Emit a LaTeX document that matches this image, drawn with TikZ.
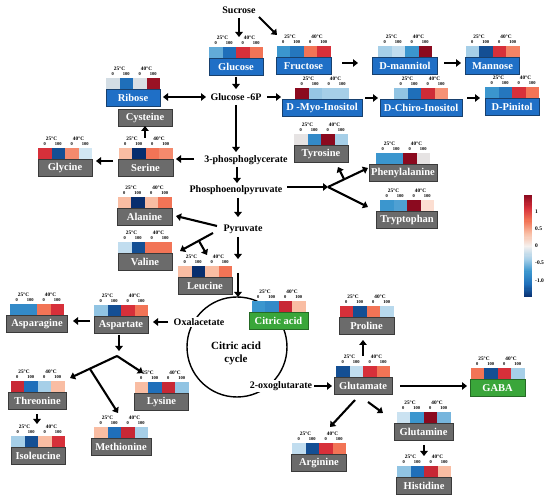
\documentclass[tikz,border=0pt]{standalone}
\usepackage{fontspec}
\setmainfont{Liberation Serif}
\usetikzlibrary{arrows.meta}
\definecolor{dR}{HTML}{8B0A1F}
\definecolor{rR}{HTML}{D7303A}
\definecolor{oR}{HTML}{F27456}
\definecolor{lO}{HTML}{F9BDA3}
\definecolor{wW}{HTML}{E6E3E3}
\definecolor{wM}{HTML}{F5F1EF}
\definecolor{lB}{HTML}{A6CFE8}
\definecolor{mB}{HTML}{3B96CE}
\definecolor{bB}{HTML}{1F6FBA}
\definecolor{dB}{HTML}{144F94}
\definecolor{nV}{HTML}{082E6E}
\definecolor{boxblue}{HTML}{1F6FC6}
\definecolor{boxblueD}{HTML}{17406E}
\definecolor{boxgray}{HTML}{6B6B6B}
\definecolor{boxgrayD}{HTML}{3A3A3A}
\definecolor{boxgreen}{HTML}{3AA63A}
\definecolor{boxgreenD}{HTML}{256A25}
\tikzset{
 arr/.style={line width=2.1pt, -{Triangle[length=5pt,width=7.5pt]}},
 dbl/.style={line width=2.1pt, {Triangle[length=5pt,width=7.5pt]}-{Triangle[length=5pt,width=7.5pt]}},
 mbase/.style={draw, line width=0.9pt, minimum height=17.5pt, inner sep=1pt, text=white, font=\bfseries\fontsize{10.5}{11}\selectfont},
 bluebox/.style={mbase, fill=boxblue, draw=boxblueD},
 graybox/.style={mbase, fill=boxgray, draw=boxgrayD},
 greenbox/.style={mbase, fill=boxgreen, draw=boxgreenD},
 tlab/.style={inner sep=0pt, font=\bfseries\fontsize{5.3}{6}\selectfont},
 nlab/.style={inner sep=0pt, font=\bfseries\fontsize{4.5}{5}\selectfont},
 met/.style={inner sep=1pt, font=\bfseries\fontsize{10}{12}\selectfont},
 cbl/.style={inner sep=0pt, anchor=west, font=\bfseries\fontsize{5.5}{6}\selectfont},
}
\newcommand\metab[7]{%
  \foreach \cc [count=\ii] in {#7} {\fill[fill=\cc] ({#2-40.5+13.5*\ii},#3) rectangle ++(13.5,11);}%
  \node[tlab] at ({#2-13.5},{#3-9.5}) {25°C};%
  \node[tlab] at ({#2+13.5},{#3-9.5}) {40°C};%
  \node[nlab] at ({#2-20.25},{#3-3.5}) {0};%
  \node[nlab] at ({#2-6.75},{#3-3.5}) {100};%
  \node[nlab] at ({#2+6.75},{#3-3.5}) {0};%
  \node[nlab] at ({#2+20.25},{#3-3.5}) {100};%
  \node[#6, minimum width=#4, anchor=north] (#1) at (#2,{#3+11}) {#5};%
}
\begin{document}
\begin{tikzpicture}[x=1pt,y=-1pt]
\useasboundingbox[fill=white] (0,0) rectangle (550,502);

% citric acid cycle
\draw[line width=1.4pt] (237,347) circle[radius=50];
\node[font=\bfseries\fontsize{11}{13}\selectfont, align=center] (tca) at (236,353) {Citric acid\\cycle};

% pathway texts
\node[met] (suc) at (239,10) {Sucrose};
\node[met] (g6p) at (236,97) {Glucose -6P};
\node[met] (pg3) at (246,160) {3-phosphoglycerate};
\node[met] (pep) at (236,190) {Phosphoenolpyruvate};
\node[met] (pyr) at (243,229) {Pyruvate};
\node[met, fill=white] (oaa) at (199,322) {Oxalacetate};
\node[met, fill=white] (ogl) at (281,386) {2-oxoglutarate};

% sugars
\metab{glc}{236}{47}{54}{Glucose}{bluebox}{mB!80!white, bB, rR, oR}
\metab{fru}{303.5}{46}{55}{Fructose}{bluebox}{mB, bB!80!mB, oR, rR}
\metab{mtl}{405}{46}{65}{D-mannitol}{bluebox}{lB, lB!70!white, mB, dR}
\metab{mns}{492.5}{46}{54}{Mannose}{bluebox}{lB, dB, rR, oR!80!lO}
\metab{myo}{322}{88}{80}{D -Myo-Inositol}{bluebox}{dR, lB!85!mB, lB, lB}
\metab{chi}{421}{88}{82}{D-Chiro-Inositol}{bluebox}{lB!80!mB, bB, rR!90!dR, oR!60!lO}
\metab{pin}{512}{87}{54}{D-Pinitol}{bluebox}{mB, bB!80!mB, rR, oR}
\metab{rib}{133}{78}{54}{Ribose}{bluebox}{lB!30!wW, bB, lB!20!wW, dR!80!rR}
\node[graybox, minimum width=54, anchor=north] (cys) at (145,109) {Cysteine};

% amino acids
\metab{ser}{145.5}{148}{55}{Serine}{graybox}{lO, nV, oR, oR!70!lO}
\metab{gly}{65}{148}{54}{Glycine}{graybox}{rR, dB, oR!70!lO, lB!50!white}
\metab{tyr}{321}{134}{54}{Tyrosine}{graybox}{wW, mB!70!bB, dR, lB}
\metab{phe}{403}{153}{68}{Phenylalanine}{graybox}{mB, mB, dR, wW}
\metab{trp}{407}{200}{61}{Tryptophan}{graybox}{mB, mB!90!white, dR, lO!50!white}
\metab{ala}{144.5}{197}{55}{Alanine}{graybox}{lO, nV, lO, oR}
\metab{val}{145}{242}{54}{Valine}{graybox}{lB!70!white, dB, oR, oR}
\metab{leu}{205}{266}{54}{Leucine}{graybox}{lO, nV, lO, oR}
\metab{cit}{278.5}{301}{59}{Citric acid}{greenbox}{mB, mB!70!bB, rR!80!dR, lO}
\metab{asp}{121}{305}{54}{Aspartate}{graybox}{lB!80!mB, dB, rR, oR}
\metab{asn}{37}{304}{61}{Asparagine}{graybox}{mB!70!bB, mB!70!bB, oR, rR}
\metab{thr}{37.5}{381}{58}{Threonine}{graybox}{rR!80!dR, bB, lB, lO}
\metab{ile}{38}{436}{54}{Isoleucine}{graybox}{lB, dB, lO, rR}
\metab{met}{121}{427}{60}{Methionine}{graybox}{lO, bB, rR!80!dR, lB}
\metab{lys}{161.5}{382}{54}{Lysine}{graybox}{lO, bB, rR!80!dR, lB!80!mB}
\metab{glu}{363}{366}{58}{Glutamate}{graybox}{dB, lB!70!white, rR, oR}
\metab{pro}{366.5}{306}{55}{Proline}{graybox}{rR, dB, oR, lB!80!white}
\metab{gab}{497.5}{368}{55}{GABA}{greenbox}{oR, dB, rR, lB}
\metab{arg}{319}{443}{55}{Arginine}{graybox}{lB!70!white, dB, rR, oR}
\metab{gln}{423.5}{412}{59}{Glutamine}{graybox}{lB!60!white, mB, dR, mB!70!white}
\metab{his}{424}{466}{55}{Histidine}{graybox}{lB!80!mB, bB, rR!80!dR, lO}

% connector end points
\coordinate (a1s) at (239,18);  \coordinate (a1e) at (239,37);
\coordinate (a2s) at (259,17);  \coordinate (a2e) at (277,35);
\coordinate (a3s) at (236,77);  \coordinate (a3e) at (236,89);
\coordinate (a4s) at (206,97);  \coordinate (a4e) at (163,97);
\coordinate (a5s) at (267,97);  \coordinate (a5e) at (281,97);
\coordinate (a6s) at (342,63);  \coordinate (a6e) at (358,63);
\coordinate (a7s) at (444,63);  \coordinate (a7e) at (461,63);
\coordinate (a8s) at (365,98);  \coordinate (a8e) at (378,98);
\coordinate (a9s) at (467,98);  \coordinate (a9e) at (480,98);
\coordinate (b1s) at (236,105); \coordinate (b1e) at (236,152);
\coordinate (b2s) at (194,159); \coordinate (b2e) at (176,159);
\coordinate (b3s) at (145,138); \coordinate (b3e) at (145,126);
\coordinate (b4s) at (113,161); \coordinate (b4e) at (96,161);
\coordinate (b5s) at (237,167); \coordinate (b5e) at (237,183);
\coordinate (c1s) at (287,187); \coordinate (br1) at (328,187);
\coordinate (c2e) at (368,168); \coordinate (c3e) at (368,207);
\coordinate (c4s) at (344,179); \coordinate (c4e) at (338,167);
\coordinate (d1s) at (238,198); \coordinate (d1e) at (238,217);
\coordinate (d2s) at (217,226); \coordinate (d2e) at (176,216);
\coordinate (d3s) at (213,233); \coordinate (d3e) at (180,251);
\coordinate (d4s) at (199,241); \coordinate (d4e) at (207,255);
\coordinate (d5s) at (238,237); \coordinate (d5e) at (238,259);
\coordinate (d6s) at (238,273); \coordinate (d6e) at (238,297);
\coordinate (e1s) at (168,322); \coordinate (e1e) at (153,322);
\coordinate (e2s) at (90,321);  \coordinate (e2e) at (73,321);
\coordinate (e3s) at (119,335); \coordinate (e3e) at (119,351);
\coordinate (br2) at (117,356);
\coordinate (e4e) at (70,378);  \coordinate (e5e) at (143,373);
\coordinate (e6s) at (90,369);  \coordinate (e6e) at (118,413);
\coordinate (e7s) at (37,414);  \coordinate (e7e) at (37,424);
\coordinate (f1s) at (314,386); \coordinate (f1e) at (332,386);
\coordinate (f2s) at (363,356); \coordinate (f2e) at (363,340);
\coordinate (f3s) at (400,386); \coordinate (f3e) at (467,386);
\coordinate (f4s) at (355,400); \coordinate (f4e) at (330,427);
\coordinate (f5s) at (368,402); \coordinate (f5e) at (383,413);
\coordinate (f6s) at (424,445); \coordinate (f6e) at (424,456);

% connectors
\draw[arr] (a1s) -- (a1e);
\draw[arr] (a2s) -- (a2e);
\draw[arr] (a3s) -- (a3e);
\draw[dbl] (a4s) -- (a4e);
\draw[arr] (a5s) -- (a5e);
\draw[arr] (a6s) -- (a6e);
\draw[arr] (a7s) -- (a7e);
\draw[arr] (a8s) -- (a8e);
\draw[arr] (a9s) -- (a9e);
\draw[arr] (b1s) -- (b1e);
\draw[arr] (b2s) -- (b2e);
\draw[arr] (b3s) -- (b3e);
\draw[arr] (b4s) -- (b4e);
\draw[arr] (b5s) -- (b5e);
\draw[arr] (c1s) -- (br1);
\draw[arr] (br1) -- (c2e);
\draw[arr] (br1) -- (c3e);
\draw[arr] (c4s) -- (c4e);
\draw[arr] (d1s) -- (d1e);
\draw[arr] (d2s) -- (d2e);
\draw[arr] (d3s) -- (d3e);
\draw[arr] (d4s) -- (d4e);
\draw[arr] (d5s) -- (d5e);
\draw[arr] (d6s) -- (d6e);
\draw[arr] (e1s) -- (e1e);
\draw[arr] (e2s) -- (e2e);
\draw[arr] (e3s) -- (e3e);
\draw[arr] (br2) -- (e4e);
\draw[arr] (br2) -- (e5e);
\draw[arr] (e6s) -- (e6e);
\draw[arr] (e7s) -- (e7e);
\draw[arr] (f1s) -- (f1e);
\draw[arr] (f2s) -- (f2e);
\draw[arr] (f3s) -- (f3e);
\draw[arr] (f4s) -- (f4e);
\draw[arr] (f5s) -- (f5e);
\draw[arr] (f6s) -- (f6e);

% colour bar
\foreach \ca/\cb [count=\k from 0] in {dR/rR, rR/oR, oR/lO, lO/wM, wM/lB, lB/mB, mB/bB, bB/nV} {
  \foreach \j in {0,...,11} {
    \pgfmathtruncatemacro\pp{100-\j*100/12}
    \fill[fill=\ca!\pp!\cb] (524,{195+\k*12.75+\j*12.75/12}) rectangle (532,{195+\k*12.75+(\j+1)*12.75/12+0.3});
  }
}
\node[cbl] (cb1) at (535,212) {1};
\node[cbl] (cb2) at (535,229) {0.5};
\node[cbl] (cb3) at (535,246) {0};
\node[cbl] (cb4) at (535,263) {-0.5};
\node[cbl] (cb5) at (535,281) {-1.0};
\end{tikzpicture}
\end{document}
